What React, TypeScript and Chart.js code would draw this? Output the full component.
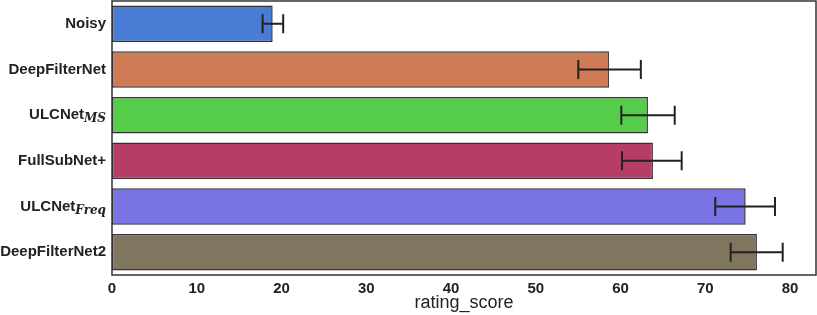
import React, { useEffect, useRef } from "react";
import { Chart, registerables } from "chart.js";

Chart.register(...registerables);

const labelBase = ["Noisy", "DeepFilterNet", "ULCNet", "FullSubNet+", "ULCNet", "DeepFilterNet2"];
const labelSub = ["", "", "MS", "", "Freq", ""];
const values = [18.96, 58.64, 63.24, 63.83, 74.77, 76.1];
const errLow = [17.77, 55.02, 60.1, 60.18, 71.18, 73.0];
const errHigh = [20.2, 62.4, 66.4, 67.22, 78.23, 79.14];
const colors = ["#4a7bd5", "#cf7b55", "#56cc4b", "#b63d66", "#7a73e3", "#80755f"];
const xTicks = [0, 10, 20, 30, 40, 50, 60, 70, 80];
const xMax = 83.07;

const FONT = '"Liberation Sans", Arial, sans-serif';

const customPlugin = {
  id: "custom",
  afterDatasetsDraw(chart: any) {
    const ctx = chart.ctx;
    const xs = chart.scales.x;
    const ys = chart.scales.y;
    ctx.save();
    ctx.strokeStyle = "#222";
    ctx.lineWidth = 2;
    for (let i = 0; i < values.length; i++) {
      const y = ys.getPixelForValue(i);
      const x1 = xs.getPixelForValue(errLow[i]);
      const x2 = xs.getPixelForValue(errHigh[i]);
      ctx.beginPath();
      ctx.moveTo(x1, y);
      ctx.lineTo(x2, y);
      ctx.moveTo(x1, y - 9.5);
      ctx.lineTo(x1, y + 9.5);
      ctx.moveTo(x2, y - 9.5);
      ctx.lineTo(x2, y + 9.5);
      ctx.stroke();
    }
    ctx.restore();
  },
  afterDraw(chart: any) {
    const ctx = chart.ctx;
    const a = chart.chartArea;
    const ys = chart.scales.y;
    ctx.save();
    ctx.strokeStyle = "#333";
    ctx.lineWidth = 1.5;
    ctx.strokeRect(a.left, a.top, a.right - a.left, a.bottom - a.top);
    ctx.fillStyle = "#222";
    ctx.textBaseline = "middle";
    const right = a.left - 6;
    for (let i = 0; i < labelBase.length; i++) {
      const y = ys.getPixelForValue(i);
      ctx.font = "bold 15px " + FONT;
      const wb = ctx.measureText(labelBase[i]).width;
      let ws = 0;
      const subFont = 'italic bold 12px "DejaVu Serif", serif';
      if (labelSub[i]) {
        ctx.font = subFont;
        ws = ctx.measureText(labelSub[i]).width;
      }
      const x0 = right - wb - ws;
      ctx.font = "bold 15px " + FONT;
      ctx.textAlign = "left";
      ctx.fillText(labelBase[i], x0, y);
      if (labelSub[i]) {
        ctx.font = subFont;
        ctx.fillText(labelSub[i], x0 + wb, y + 4);
      }
    }
    ctx.restore();
  },
};

export default function App() {
  const ref = useRef<HTMLCanvasElement>(null);
  useEffect(() => {
    const chart = new Chart(ref.current!, {
      type: "bar",
      data: {
        labels: labelBase.map((b, i) => b + labelSub[i]),
        datasets: [
          {
            data: values,
            backgroundColor: colors,
            borderColor: "#333",
            borderWidth: 1.5,
            borderSkipped: false,
            categoryPercentage: 1,
            barPercentage: 0.8,
          },
        ],
      },
      options: {
        indexAxis: "y",
        animation: false,
        responsive: false,
        maintainAspectRatio: false,
        layout: { padding: { top: 1, right: 1, left: 0, bottom: 0 } },
        plugins: { legend: { display: false }, tooltip: { enabled: false } },
        scales: {
          x: {
            type: "linear",
            min: 0,
            max: xMax,
            afterBuildTicks: (s: any) => {
              s.ticks = xTicks.map((v) => ({ value: v }));
            },
            afterFit: (s: any) => {
              s.height = 40;
            },
            grid: { display: false, drawTicks: false },
            border: { display: false },
            ticks: {
              padding: 5,
              color: "#222",
              font: { family: FONT, size: 15, weight: "bold" },
              maxRotation: 0,
            },
            title: {
              display: true,
              text: "rating_score",
              color: "#222",
              font: { family: FONT, size: 18 },
              padding: { top: 0, bottom: 1 },
            },
          },
          y: {
            type: "category",
            grid: { display: false, drawTicks: false },
            border: { display: false },
            ticks: { display: false },
            afterFit: (s: any) => {
              s.width = 112;
            },
          },
        },
      },
      plugins: [customPlugin],
    });
    return () => chart.destroy();
  }, []);
  return (
    <div style={{ position: "absolute", left: 0, top: 0, width: 817, height: 315 }}>
      <canvas ref={ref} width={817} height={315} style={{ display: "block" }} />
    </div>
  );
}
